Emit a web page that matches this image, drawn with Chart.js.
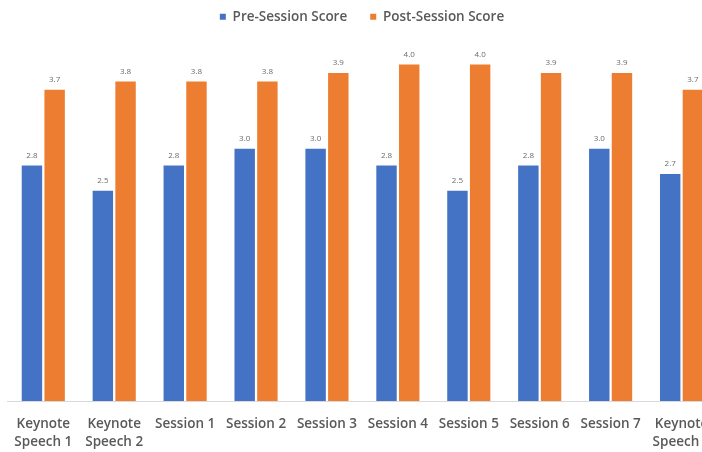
<!DOCTYPE html>
<html>
<head>
<meta charset="utf-8">
<script src="https://cdn.jsdelivr.net/npm/chart.js@4/dist/chart.umd.min.js"></script>
<style>
    html, body { margin: 0; padding: 0; background: #fff; overflow: hidden; }
    #wrap { width: 726px; height: 452px; }
</style>
</head>
<body>
<div id="wrap"><canvas id="myChart" width="726" height="452"></canvas></div>
<script>
// Данные
var sessions = [
    ['Keynote', 'Speech 1'], ['Keynote', 'Speech 2'], 'Session 1', 'Session 2', 'Session 3',
    'Session 4', 'Session 5', 'Session 6', 'Session 7', ['Keynote', 'Speech 3']
];
var preScore = [2.8, 2.5, 2.8, 3.0, 3.0, 2.8, 2.5, 2.8, 3.0, 2.7];
var postScore = [3.7, 3.8, 3.8, 3.8, 3.9, 4.0, 4.0, 3.9, 3.9, 3.7];

// Подписи над столбцами
var valueLabels = {
    id: 'valueLabels',
    afterDatasetsDraw: function(chart) {
        var ctx = chart.ctx;
        ctx.save();
        ctx.font = '8px "Open Sans"';
        ctx.fillStyle = '#6b6b6b';
        ctx.textAlign = 'center';
        ctx.textBaseline = 'bottom';
        chart.data.datasets.forEach(function(ds, i) {
            chart.getDatasetMeta(i).data.forEach(function(bar, j) {
                ctx.fillText(ds.data[j].toFixed(1), bar.x, bar.y - 6);
            });
        });
        ctx.restore();
    }
};

chart();

function chart() {
    var ctx = document.getElementById('myChart').getContext('2d');

    new Chart(ctx, {
        type: 'bar',
        data: {
            labels: sessions,
            datasets: [{
                label: 'Pre-Session Score',
                backgroundColor: '#4472C4',
                data: preScore
            }, {
                label: 'Post-Session Score',
                backgroundColor: '#ED7D31',
                data: postScore
            }]
        },
        options: {
            responsive: false,
            animation: false,
            devicePixelRatio: 1,
            layout: { padding: { left: 7, right: 9, top: -13, bottom: -13 } },
            datasets: { bar: { categoryPercentage: 0.64, barPercentage: 0.9 } },
            plugins: {
                tooltip: { enabled: false },
                legend: {
                    position: 'top',
                    labels: {
                        boxWidth: 6,
                        boxHeight: 6,
                        padding: 23,
                        color: '#595959',
                        font: { family: '"Open Sans"', size: 13.5, weight: '600' }
                    }
                }
            },
            scales: {
                x: {
                    grid: { display: false, drawTicks: false },
                    border: { display: true, color: '#D9D9D9', width: 1 },
                    ticks: {
                        padding: 14,
                        maxRotation: 0,
                        autoSkip: false,
                        color: '#595959',
                        font: { family: '"Open Sans"', size: 13.5, weight: '600', lineHeight: 1.33 }
                    }
                },
                y: {
                    display: false,
                    min: 0,
                    max: 4.37
                }
            }
        },
        plugins: [valueLabels]
    });
}
</script>
</body>
</html>
